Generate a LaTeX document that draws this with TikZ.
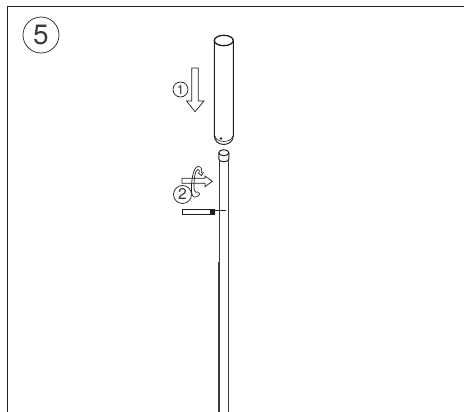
\documentclass[tikz,border=0pt]{standalone}
\usepackage{fontspec}
\setmainfont{TeX Gyre Heros}
\usepackage{tikz}
\usetikzlibrary{positioning,calc}
\definecolor{inkdark}{HTML}{1E1E1E}
\definecolor{inkmid}{HTML}{3A3A3A}
\tikzset{
  frameline/.style={draw=inkdark, line width=1.3pt},
  partline/.style={draw=inkdark, line width=0.95pt},
  rodline/.style={draw=inkmid, line width=0.95pt},
  hollowarrow/.style={draw=inkdark, fill=white, line width=0.7pt, line join=miter},
  twistline/.style={draw=inkdark, line width=0.7pt},
  stepmark/.style={circle, draw=inkdark, line width=0.7pt, inner sep=0pt, text=inkmid},
}
\begin{document}
\begin{tikzpicture}[x=1pt, y=-1pt]
  \useasboundingbox (0,0) rectangle (464,412);
  % frame, open at the bottom and on the right
  \coordinate (fl) at (7.5,412);
  \coordinate (fr) at (464,6.5);
  \draw[frameline] (fl) |- (fr);
  \node[stepmark, minimum size=36pt, font=\fontsize{28}{28}\selectfont] (step5) at (41,35) {5};
  % upper tube
  \draw[partline, fill=white] (214.3,40.5) -- (214.3,136) arc[x radius=9.5, y radius=8.5, start angle=180, end angle=0] -- (233.3,40.5);
  \draw[partline, line width=1.3pt, fill=white] (223.8,40.5) ellipse[x radius=9.5, y radius=5.2];
  \draw[partline, line width=0.6pt] (215,136) arc[x radius=8.8, y radius=5.5, start angle=180, end angle=0];
  \fill[inkdark] (221,138.5) circle[radius=1.3];
  % arrow 1
  \draw[hollowarrow] (191.7,68) -- (198.3,68) -- (198.3,101) -- (204,101) -- (195,111.7) -- (186.5,101) -- (191.7,101) -- cycle;
  \node[stepmark, minimum size=15pt, font=\fontsize{13}{13}\selectfont] (step1) at (180.5,89.5) {1};
  % rod
  \draw[rodline] (219,158) -- (219,262);
  \draw[rodline] (228.7,158) -- (228.7,262);
  \draw[rodline, line width=1.45pt] (219,262) -- (219,412);
  \draw[rodline, line width=1.3pt] (228.7,262) -- (228.7,412);
  \draw[partline, fill=white] (218.8,153) -- (218.8,159) arc[x radius=5, y radius=2.8, start angle=180, end angle=0] -- (228.8,153);
  \draw[partline, fill=white] (223.8,152.7) ellipse[x radius=5, y radius=3];
  % arrow 2 with the turning ribbon
  \draw[hollowarrow] (182,178.3) -- (205,178.3) -- (205,176) -- (212.3,181.3) -- (205,186.7) -- (205,183.3) -- (182,183.3) -- cycle;
  \draw[twistline] (200,194) .. controls (196,199) and (192,198) .. (191.5,192) .. controls (191,182) and (193,167) .. (198,166.5) .. controls (201,166.5) and (202.5,169) .. (201.5,173);
  \draw[twistline] (198,192) .. controls (195,193) and (194,191) .. (194,187) .. controls (194,178) and (195,170) .. (198,169.5) .. controls (199.5,169.5) and (199.5,171) .. (199,173);
  \draw[twistline] (198,173) -- (201.5,175.5) -- (203.5,172);
  \draw[twistline] (198,192) -- (200,194);
  \node[stepmark, fill=white, minimum size=18pt, font=\fontsize{15.5}{15.5}\selectfont] (step2) at (182.5,194.5) {2};
  % pin
  \draw[hollowarrow] (182.7,209.5) rectangle (210,214);
  \fill[inkdark] (210,209) rectangle (215,214.5);
  \draw[draw=inkdark, line width=0.7pt] (215,210.8) -- (226,210.8);
\end{tikzpicture}
\end{document}
